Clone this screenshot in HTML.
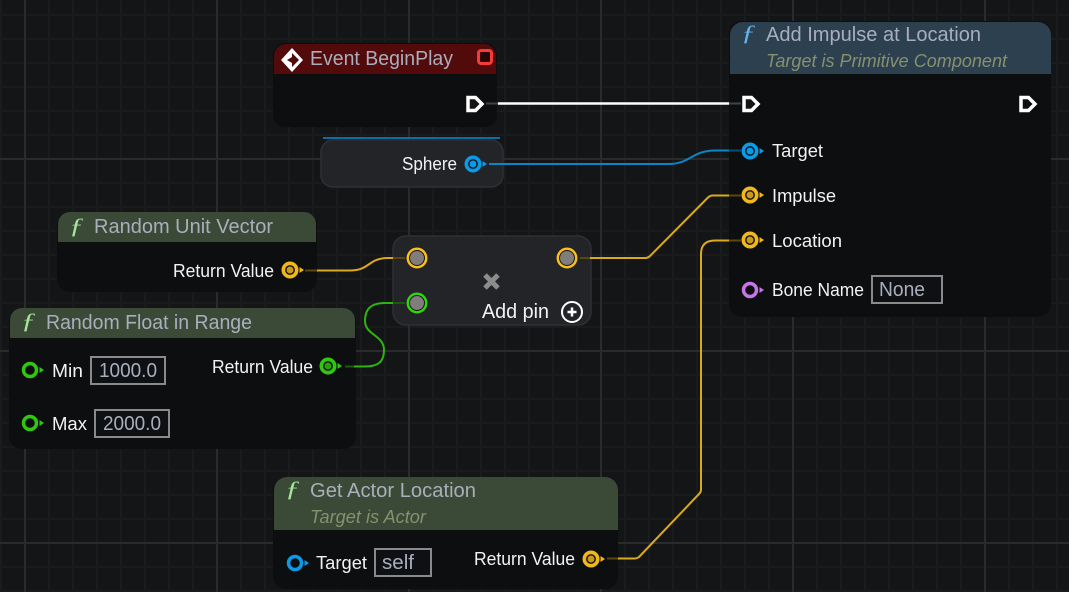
<!DOCTYPE html>
<html><head><meta charset="utf-8"><style>
html,body{margin:0;padding:0;background:#141517;width:1069px;height:592px;overflow:hidden}
svg{display:block}
text{font-family:"Liberation Sans",sans-serif}
.t{font-size:20px;fill:#a9aebd}
.s{font-size:18px;font-style:italic;fill:#87906f}
.l{font-size:18px;fill:#f2f2f2}
.v{font-size:20px;fill:#a9aebd}
.f{font-family:"Liberation Serif",serif;font-style:italic;font-size:22px}
.w{fill:none;stroke-width:2;stroke-linejoin:round}
.box{fill:#0f1013;stroke:#8a8a8a;stroke-width:2}
</style></head><body>
<svg width="1069" height="592" viewBox="0 0 1069 592" xmlns="http://www.w3.org/2000/svg">
<defs>
<pattern id="g" x="0" y="14" width="24" height="24" patternUnits="userSpaceOnUse">
<rect x="0" y="0" width="2" height="24" fill="#1a1b1d"/><rect x="0" y="0" width="24" height="2" fill="#1a1b1d"/>
</pattern>
</defs>
<rect width="1069" height="592" fill="#141517"/>
<rect width="1069" height="592" fill="url(#g)"/>
<g fill="#2a2b2d">
<rect x="216" width="2" height="592"/><rect x="408" width="2" height="592"/><rect x="600" width="2" height="592"/><rect x="792" width="2" height="592"/><rect x="984" width="2" height="592"/><rect x="24" width="2" height="592"/>
<rect y="158" width="1069" height="2"/><rect y="350" width="1069" height="2"/><rect y="542" width="1069" height="2"/>
</g>

<!-- Event BeginPlay -->
<rect x="273" y="43" width="224" height="84" rx="12" fill="#0d0e10"/>
<path d="M274 74V56a12 12 0 0 1 12-12H484a12 12 0 0 1 12 12V74Z" fill="#520a0b"/>
<path d="M292 48L303 60L292 72L281 60Z" fill="#fff"/>
<path d="M292 53L299 60L292 67L292 63L287 60L292 57Z" fill="#520a0b"/>
<text class="t" x="310" y="65" textLength="143" lengthAdjust="spacingAndGlyphs">Event BeginPlay</text>
<rect x="478.500" y="50.500" width="13" height="13" rx="2.500" fill="#2a0505" stroke="#f53a3a" stroke-width="3"/>

<!-- Sphere -->
<rect x="323" y="137" width="177" height="2" fill="#0c6ea6"/>
<rect x="321" y="140" width="182" height="47" rx="12" fill="#232428" stroke="#2f3034" stroke-width="1.500"/>
<text class="l" x="402" y="170" textLength="55" lengthAdjust="spacingAndGlyphs">Sphere</text>

<!-- Add Impulse -->
<rect x="729" y="21" width="322" height="296" rx="13" fill="#0d0e10"/>
<path d="M730 74V35a13 13 0 0 1 13-13H1038a13 13 0 0 1 13 13V74Z" fill="#2c404f"/>
<text class="f" x="741" y="40" fill="#63b4ea" textLength="15" lengthAdjust="spacingAndGlyphs">ƒ</text>
<text class="t" x="766" y="41" textLength="215" lengthAdjust="spacingAndGlyphs">Add Impulse at Location</text>
<text class="s" x="766" y="67" textLength="241" lengthAdjust="spacingAndGlyphs">Target is Primitive Component</text>
<text class="l" x="772" y="157" textLength="51" lengthAdjust="spacingAndGlyphs">Target</text>
<text class="l" x="772" y="202" textLength="64" lengthAdjust="spacingAndGlyphs">Impulse</text>
<text class="l" x="772" y="247" textLength="70" lengthAdjust="spacingAndGlyphs">Location</text>
<text class="l" x="772" y="296" textLength="92" lengthAdjust="spacingAndGlyphs">Bone Name</text>
<rect class="box" x="872" y="276" width="70" height="27"/>
<text class="v" x="879" y="296" textLength="46" lengthAdjust="spacingAndGlyphs">None</text>

<!-- Random Unit Vector -->
<rect x="57" y="212" width="260" height="80" rx="13" fill="#0d0e10"/>
<path d="M58 242V224a12 12 0 0 1 12-12H304a12 12 0 0 1 12 12V242Z" fill="#3a4a36"/>
<text class="f" x="69" y="233" fill="#a6e59a" textLength="15" lengthAdjust="spacingAndGlyphs">ƒ</text>
<text class="t" x="94" y="233" textLength="179" lengthAdjust="spacingAndGlyphs">Random Unit Vector</text>
<text class="l" x="173" y="277" textLength="101" lengthAdjust="spacingAndGlyphs">Return Value</text>

<!-- Random Float -->
<rect x="9" y="308" width="347" height="141" rx="13" fill="#0d0e10"/>
<path d="M10 338V320a12 12 0 0 1 12-12H343a12 12 0 0 1 12 12V338Z" fill="#3a4a36"/>
<text class="f" x="21" y="328" fill="#a6e59a" textLength="15" lengthAdjust="spacingAndGlyphs">ƒ</text>
<text class="t" x="46" y="329" textLength="206" lengthAdjust="spacingAndGlyphs">Random Float in Range</text>
<text class="l" x="52" y="377" textLength="31" lengthAdjust="spacingAndGlyphs">Min</text>
<rect class="box" x="91" y="357" width="74" height="27"/>
<text class="v" x="99" y="377" textLength="58" lengthAdjust="spacingAndGlyphs">1000.0</text>
<text class="l" x="52" y="430" textLength="35" lengthAdjust="spacingAndGlyphs">Max</text>
<rect class="box" x="95" y="410" width="74" height="27"/>
<text class="v" x="103" y="430" textLength="58" lengthAdjust="spacingAndGlyphs">2000.0</text>
<text class="l" x="212" y="373" textLength="101" lengthAdjust="spacingAndGlyphs">Return Value</text>

<!-- Make array -->
<rect x="393" y="236" width="198" height="89" rx="13" fill="#232428" stroke="#2f3034" stroke-width="1.500"/>
<path d="M485 275L498 288M498 275L485 288" stroke="#8c8c8c" stroke-width="5" fill="none"/>
<text class="l" x="482" y="318" textLength="67" lengthAdjust="spacingAndGlyphs" style="font-size:20px">Add pin</text>
<circle cx="572" cy="312" r="10" fill="none" stroke="#fff" stroke-width="2"/>
<path d="M567.500 312H576.500M572 307.500V316.500" stroke="#fff" stroke-width="2.500"/>

<!-- Get Actor Location -->
<rect x="273" y="477" width="345" height="112" rx="13" fill="#0d0e10"/>
<path d="M274 530V490a13 13 0 0 1 13-13H605a13 13 0 0 1 13 13V530Z" fill="#3a4a36"/>
<text class="f" x="285" y="496" fill="#a6e59a" textLength="15" lengthAdjust="spacingAndGlyphs">ƒ</text>
<text class="t" x="310" y="497" textLength="166" lengthAdjust="spacingAndGlyphs">Get Actor Location</text>
<text class="s" x="310" y="523" textLength="116" lengthAdjust="spacingAndGlyphs">Target is Actor</text>
<text class="l" x="316" y="569" textLength="51" lengthAdjust="spacingAndGlyphs">Target</text>
<rect class="box" x="375" y="549" width="56" height="27"/>
<text class="v" x="382" y="569" textLength="32" lengthAdjust="spacingAndGlyphs">self</text>
<text class="l" x="474" y="565" textLength="101" lengthAdjust="spacingAndGlyphs">Return Value</text>

<!-- Wires: bright runs -->
<path class="w" d="M498 103.500H729" stroke="#fff" style="stroke-width:2.500"/>
<path class="w" d="M489 164H669C690 164 692 150.500 715 150.500H729" stroke="#0a86c8"/>
<path class="w" d="M317 270.500H350C370 270.500 368 258 388 258H393" stroke="#dba91d"/>
<path class="w" d="M590 258H645Q648 258 650 256L708 197.500Q710 195.500 713 195.500H729" stroke="#dba91d"/>
<path class="w" d="M729 240.500H715Q701 240.500 701 254V490Q701 492 699 494L639 557Q637 558.500 635 558.500H618" stroke="#dba91d"/>
<path class="w" d="M354 366.500H365C378 366.500 384 362 384 350C384 335 365 335 365 321C365 308 372 303 385 303H393" stroke="#2fb40f"/>
<!-- Wires: dim runs inside nodes -->
<path class="w" d="M486 103.500H498M729 103.500H741" stroke="#444"/>
<path class="w" d="M729 150.500H741" stroke="#0a4a6e"/>
<path class="w" d="M729 195.500H741M729 240.500H741M305 270.500H317M393 258H405M580 258H590M607 558.500H618" stroke="#5a4610"/>
<path class="w" d="M345 366.500H354M393 303H405" stroke="#1d5a10"/>

<!-- Exec pins -->
<g fill="#141414" stroke="#fff" stroke-width="3.500">
<path d="M468 97.500H475.500L482 104L475.500 110.500H468Z"/>
<path d="M744 97.500H751.500L758 104L751.500 110.500H744Z"/>
<path d="M1021 97.500H1028.500L1035 104L1028.500 110.500H1021Z" fill="#0d0e10"/>
</g>

<!-- Data pins connected -->
<g stroke-width="3.600" fill="#0f1013">
<circle cx="473" cy="164" r="6.700" stroke="#0a9be8"/>
<circle cx="750" cy="151" r="6.700" stroke="#0a9be8"/>
<circle cx="750" cy="195" r="6.700" stroke="#f0b81a"/>
<circle cx="750" cy="240" r="6.700" stroke="#f0b81a"/>
<circle cx="290" cy="270" r="6.700" stroke="#f0b81a"/>
<circle cx="328" cy="366" r="6.700" stroke="#2fc80e"/>
<circle cx="591" cy="559" r="6.700" stroke="#f0b81a"/>
</g>
<g fill="#0a9be8"><circle cx="473" cy="164" r="3.500"/><path d="M482.500 161V167L487 164Z"/><circle cx="750" cy="151" r="3.500"/><path d="M759.500 148V154L764 151Z"/></g>
<g fill="#c99a1a"><circle cx="750" cy="195" r="3.500"/><circle cx="750" cy="240" r="3.500"/><circle cx="290" cy="270" r="3.500"/><circle cx="591" cy="559" r="3.500"/></g>
<g fill="#f0b81a"><path d="M759.500 192V198L764 195Z"/><path d="M759.500 237V243L764 240Z"/><path d="M299.500 267V273L304 270Z"/><path d="M600.500 556V562L605 559Z"/></g>
<g fill="#2fc80e"><circle cx="328" cy="366" r="3.500" fill="#27a00c"/><path d="M337.500 363V369L342 366Z"/></g>

<!-- Data pins open -->
<circle cx="750" cy="290" r="6.500" fill="#0d0e10" stroke="#c675e6" stroke-width="3.500"/><path d="M759.500 287V293L764 290Z" fill="#c675e6"/>
<circle cx="30" cy="370" r="6.500" fill="#0d0e10" stroke="#2fc80e" stroke-width="3.500"/><path d="M39.500 367V373L44 370Z" fill="#2fc80e"/>
<circle cx="30" cy="423" r="6.500" fill="#0d0e10" stroke="#2fc80e" stroke-width="3.500"/><path d="M39.500 420V426L44 423Z" fill="#2fc80e"/>
<circle cx="295" cy="563" r="6.500" fill="#0d0e10" stroke="#0a9be8" stroke-width="3.500"/><path d="M304.500 560V566L309 563Z" fill="#0a9be8"/>

<!-- Make array pins -->
<circle cx="417" cy="258" r="8" fill="#0d0e10"/><circle cx="417" cy="258" r="7" fill="#827d7d"/><circle cx="417" cy="258" r="9.200" fill="none" stroke="#fbbf1c" stroke-width="2.500"/>
<circle cx="567" cy="258" r="8" fill="#0d0e10"/><circle cx="567" cy="258" r="7" fill="#827d7d"/><circle cx="567" cy="258" r="9.200" fill="none" stroke="#fbbf1c" stroke-width="2.500"/>
<circle cx="417" cy="303" r="8" fill="#0d0e10"/><circle cx="417" cy="303" r="7" fill="#827d7d"/><circle cx="417" cy="303" r="9.200" fill="none" stroke="#2fd80e" stroke-width="2.500"/>
</svg>
</body></html>
